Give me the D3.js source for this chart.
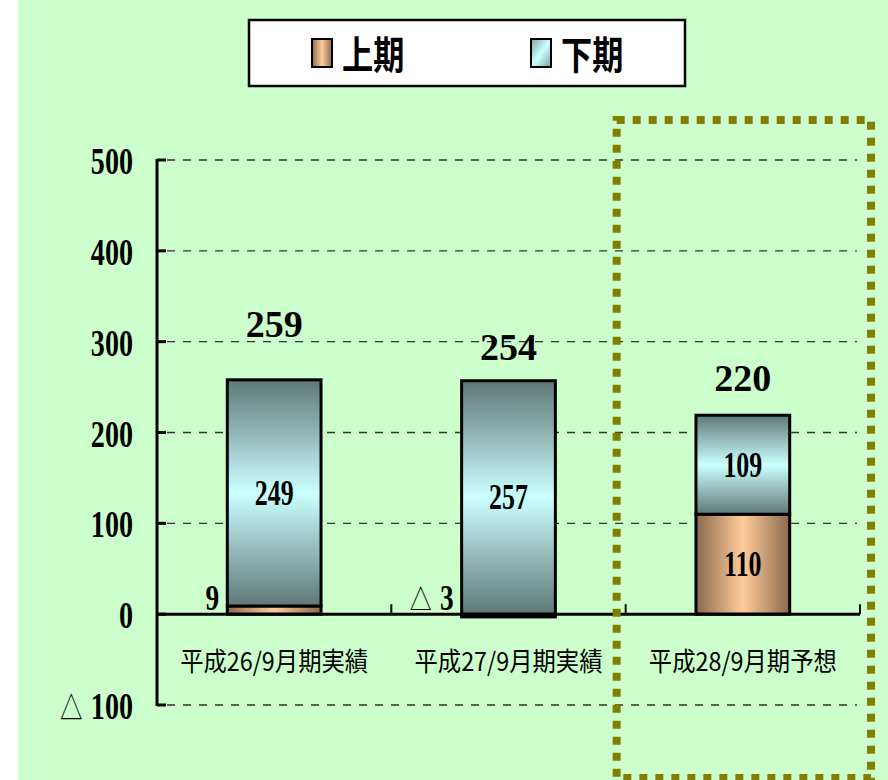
<!DOCTYPE html>
<html><head><meta charset="utf-8">
<script src="https://cdn.jsdelivr.net/npm/d3@7"></script>
<style>
html,body{margin:0;padding:0;background:#fff;}
svg{display:block;}
</style></head>
<body>
<svg id="chart" width="888" height="780"></svg>
<script>
// ---- data ----
const categories = ["平成26/9月期実績", "平成27/9月期実績", "平成28/9月期予想"];
const seriesNames = ["上期", "下期"];
const firstHalf = [9, -3, 110];
const secondHalf = [249, 257, 109];
const totals = [259, 254, 220];
const yTicks = [-100, 0, 100, 200, 300, 400, 500];

// ---- layout ----
const W = 888, H = 780;
const plot = {left: 157, right: 860, top: 160, bottom: 705};
const totalLift = [42, 23, 23];
const svg = d3.select("#chart");
const defs = svg.append("defs");

// write a number into a text node; negatives use "△ n"
function writeNum(textSel, v) {
  if (v < 0) {
    textSel.append("tspan").attr("font-family", "'Noto Sans CJK JP',sans-serif").attr("font-weight", "normal")
      .attr("font-size", "0.8em").text("△");
    textSel.append("tspan").attr("dx", "0.3em").text(Math.abs(v));
  } else {
    textSel.text(String(v));
  }
}

// gradients
const gUp = defs.append("linearGradient").attr("id", "gUp").attr("x1", 0).attr("x2", 1).attr("y1", 0).attr("y2", 0);
[[0, "#8a6a4e"], [0.5, "#ffcc99"], [1, "#8a6a4e"]].forEach(([o, c]) => gUp.append("stop").attr("offset", o).attr("stop-color", c));
const gDn = defs.append("linearGradient").attr("id", "gDn").attr("x1", 0).attr("x2", 0).attr("y1", 0).attr("y2", 1);
[[0, "#5e7876"], [0.5, "#ccffff"], [1, "#5e7876"]].forEach(([o, c]) => gDn.append("stop").attr("offset", o).attr("stop-color", c));
const gDnL = defs.append("linearGradient").attr("id", "gDnL").attr("x1", 0).attr("x2", 1).attr("y1", 0).attr("y2", 1);
[[0, "#7fa3a3"], [0.5, "#ccffff"], [1, "#7fa3a3"]].forEach(([o, c]) => gDnL.append("stop").attr("offset", o).attr("stop-color", c));
const fills = ["url(#gUp)", "url(#gDn)"];

// background
svg.append("rect").attr("x", 18).attr("y", 0).attr("width", W - 18).attr("height", H).attr("fill", "#ccffcc");

// scales
const x = d3.scaleBand().domain(categories).range([plot.left, plot.right]).paddingInner(0).paddingOuter(0);
const y = d3.scaleLinear().domain([-100, 500]).range([plot.bottom, plot.top]);
const barW = x.bandwidth() * 0.4;
const cx = c => x(c) + x.bandwidth() / 2;

// gridlines
svg.append("g").selectAll("line").data(yTicks.filter(v => v !== 0)).join("line")
  .attr("x1", plot.left + 10).attr("x2", plot.right - 3)
  .attr("y1", d => y(d)).attr("y2", d => y(d))
  .attr("stroke", "#333").attr("stroke-width", 1.4).attr("stroke-dasharray", "8,8");

// stack
const rows = categories.map((c, i) => ({cat: c, "上期": firstHalf[i], "下期": secondHalf[i]}));
const stacked = d3.stack().keys(seriesNames).offset(d3.stackOffsetDiverging)(rows);

stacked.forEach((layer, li) => {
  svg.append("g").selectAll("rect").data(layer).join("rect")
    .attr("x", d => cx(d.data.cat) - barW / 2)
    .attr("width", barW)
    .attr("y", d => y(Math.max(d[0], d[1])))
    .attr("height", d => Math.abs(y(d[0]) - y(d[1])))
    .attr("fill", fills[li])
    .attr("stroke", "#000").attr("stroke-width", 3);
});

// axes
const axisG = svg.append("g");
axisG.append("line").attr("x1", plot.left).attr("x2", plot.left).attr("y1", y(500) - 1).attr("y2", y(-100) + 1)
  .attr("stroke", "#000").attr("stroke-width", 3);
axisG.selectAll(".yt").data(yTicks).join("line").attr("class", "yt")
  .attr("x1", plot.left).attr("x2", plot.left + 9).attr("y1", d => y(d)).attr("y2", d => y(d))
  .attr("stroke", "#000").attr("stroke-width", 3);
axisG.append("line").attr("x1", plot.left).attr("x2", plot.right).attr("y1", y(0)).attr("y2", y(0))
  .attr("stroke", "#000").attr("stroke-width", 3);
axisG.selectAll(".xt").data(categories).join("line").attr("class", "xt")
  .attr("x1", d => x(d) + x.bandwidth()).attr("x2", d => x(d) + x.bandwidth())
  .attr("y1", y(0)).attr("y2", y(0) - 10)
  .attr("stroke", "#000").attr("stroke-width", 2);

// y tick labels
const serif = "'Liberation Serif','Times New Roman',serif";
yTicks.forEach(v => {
  const g = svg.append("g").attr("transform", `translate(133,${y(v) + 14}) scale(0.74,1)`);
  const t = g.append("text").attr("text-anchor", "end").attr("font-family", serif).attr("font-weight", "bold")
    .attr("font-size", 38).attr("fill", "#000");
  writeNum(t, v);
});

// category labels
categories.forEach(c => {
  svg.append("text").attr("x", cx(c)).attr("y", y(0) + 57).attr("text-anchor", "middle")
    .attr("font-family", "'Noto Sans CJK JP',sans-serif").attr("font-size", 26)
    .attr("textLength", 188).attr("lengthAdjust", "spacingAndGlyphs")
    .attr("fill", "#000").text(c);
});

// segment labels
stacked.forEach(layer => {
  layer.forEach(d => {
    const val = d.data[layer.key];
    const c = d.data.cat;
    let g, t;
    if (Math.abs(val) < 20) {
      g = svg.append("g").attr("transform", `translate(${cx(c) - barW / 2 - 8},${y(0) - 4}) scale(0.76,1)`);
      t = g.append("text").attr("text-anchor", "end");
    } else {
      const mid = (d[0] + d[1]) / 2;
      g = svg.append("g").attr("transform", `translate(${cx(c)},${y(mid) + 12}) scale(0.72,1)`);
      t = g.append("text").attr("text-anchor", "middle");
    }
    t.attr("font-family", serif).attr("font-weight", "bold").attr("font-size", 36).attr("fill", "#000");
    writeNum(t, val);
  });
});

// total labels
categories.forEach((c, i) => {
  const t = svg.append("text").attr("x", cx(c)).attr("y", y(totals[i]) - totalLift[i]).attr("text-anchor", "middle")
    .attr("font-family", serif).attr("font-weight", "bold").attr("font-size", 38).attr("fill", "#000");
  writeNum(t, totals[i]);
});

// dotted highlight box around forecast
const lastCat = categories[categories.length - 1];
svg.append("rect").attr("x", x(lastCat) - 9).attr("y", 120)
  .attr("width", x.bandwidth() + 20).attr("height", 658)
  .attr("fill", "none").attr("stroke", "#808000").attr("stroke-width", 8).attr("stroke-dasharray", "8,8");

// legend
const lg = svg.append("g");
lg.append("rect").attr("x", 249).attr("y", 20).attr("width", 436).attr("height", 66)
  .attr("fill", "#fff").attr("stroke", "#000").attr("stroke-width", 2.5);
const legendX = [312, 531];
const legendFills = ["url(#gUp)", "url(#gDnL)"];
seriesNames.forEach((s, i) => {
  lg.append("rect").attr("x", legendX[i]).attr("y", 39).attr("width", 20).attr("height", 28)
    .attr("fill", legendFills[i]).attr("stroke", "#000").attr("stroke-width", 2);
  const tg = lg.append("g").attr("transform", `translate(${legendX[i] + 30},69) scale(0.8,1)`);
  tg.append("text").attr("font-family", "'Noto Sans CJK JP',sans-serif").attr("font-weight", "bold")
    .attr("font-size", 39).attr("fill", "#000").text(s);
});
</script>
</body></html>
